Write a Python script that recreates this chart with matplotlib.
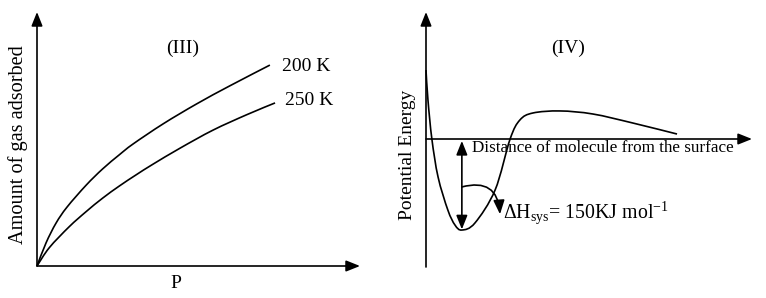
import matplotlib
matplotlib.use("Agg")
import matplotlib.pyplot as plt
from matplotlib.path import Path
from matplotlib.patches import PathPatch

plt.rcParams['font.family'] = ['Liberation Serif', 'DejaVu Serif']
plt.rcParams['mathtext.fontset'] = 'custom'
plt.rcParams['mathtext.rm'] = 'Liberation Serif'
plt.rcParams['mathtext.it'] = 'Liberation Serif:italic'

# ---- Panel (III): adsorption isotherms ----
pressure_200 = [0, 0.28, 0.59, 0.93, 1.52, 2.03, 2.55, 2.97, 3.91, 4.94, 5.98, 7.21]
amount_200 = [0, 0.91, 1.69, 2.32, 3.18, 3.82, 4.38, 4.80, 5.60, 6.38, 7.10, 7.91]
pressure_250 = [0, 0.38, 1.00, 1.52, 2.03, 2.55, 3.07, 3.58, 4.43, 5.45, 6.50, 7.37]
amount_250 = [0, 0.72, 1.55, 2.14, 2.67, 3.15, 3.59, 4.00, 4.64, 5.35, 5.96, 6.42]
curve_labels = ["200 K", "250 K"]

# ---- Panel (IV): potential energy curve ----
distance = [0, 0.06, 0.18, 0.37, 0.67, 0.89, 1.10, 1.50, 2.12, 2.58, 2.88, 3.28,
            4.11, 5.12, 6.35, 7.70]
energy = [5.41, 3.06, 0, -2.98, -5.57, -6.75, -7.14, -6.59, -4.00, 0, 1.49, 2.04,
          2.20, 1.96, 1.25, 0.39]
dh_label = r"$\mathrm{\Delta H_{sys}}$= 150KJ mol$^{\mathrm{-1}}$"

W, H = 766, 298
fig = plt.figure(figsize=(W / 100, H / 100), dpi=100)


def px_rect(x0, y_bottom, x1, y_top):
    return [x0 / W, (H - y_bottom) / H, (x1 - x0) / W, (y_bottom - y_top) / H]


def smooth_path(xs, ys):
    """Catmull-Rom curve through the points, drawn as cubic Bezier segments."""
    pts = list(zip(xs, ys))
    n = len(pts)
    verts = [pts[0]]
    codes = [Path.MOVETO]
    for i in range(n - 1):
        p0 = pts[max(i - 1, 0)]
        p1 = pts[i]
        p2 = pts[i + 1]
        p3 = pts[min(i + 2, n - 1)]
        c1 = (p1[0] + (p2[0] - p0[0]) / 6, p1[1] + (p2[1] - p0[1]) / 6)
        c2 = (p2[0] - (p3[0] - p1[0]) / 6, p2[1] - (p3[1] - p1[1]) / 6)
        verts += [c1, c2, p2]
        codes += [Path.CURVE4] * 3
    return Path(verts, codes)


lw = 1.2
arrow_kw = dict(arrowstyle='-|>,head_length=0.7,head_width=0.28', color='black',
                lw=lw, mutation_scale=12, shrinkA=0, shrinkB=0)

# Left axes
ax1 = fig.add_axes(px_rect(37, 266, 360, 12))
ax1.set_xlim(0, 10)
ax1.set_ylim(0, 10)
ax1.axis('off')
ax1.annotate('', xy=(1, 0), xytext=(0, 0), xycoords='axes fraction',
             arrowprops=arrow_kw, annotation_clip=False)
ax1.annotate('', xy=(0, 1), xytext=(0, 0), xycoords='axes fraction',
             arrowprops=arrow_kw, annotation_clip=False)
for xs, ys in [(pressure_200, amount_200), (pressure_250, amount_250)]:
    ax1.add_patch(PathPatch(smooth_path(xs, ys), facecolor='none',
                            edgecolor='black', lw=lw, clip_on=False))
ax1.text(7.59, 7.87, curve_labels[0], fontsize=14, va='center', ha='left')
ax1.text(7.68, 6.50, curve_labels[1], fontsize=14, va='center', ha='left')
ax1.text(4.52, 8.58, "(III)", fontsize=14, va='center', ha='center')
ax1.text(4.30, -0.67, "P", fontsize=14, va='center', ha='center')
fig.text(18 / W, 1 - 145 / H, "Amount of gas adsorbed", rotation=90,
         fontsize=14.6, va='center', ha='center')

# Right axes
ax2 = fig.add_axes(px_rect(426, 267, 752, 12))
ax2.set_xlim(0, 10)
ax2.set_ylim((139 - 267) / 12.75, (139 - 12) / 12.75)
ax2.axis('off')
ax2.annotate('', xy=(1, 0), xytext=(0, 0), xycoords=('axes fraction', 'data'),
             arrowprops=arrow_kw, annotation_clip=False)
ax2.annotate('', xy=(0, 1), xytext=(0, 0), xycoords='axes fraction',
             arrowprops=arrow_kw, annotation_clip=False)
ax2.add_patch(PathPatch(smooth_path(distance, energy), facecolor='none',
                        edgecolor='black', lw=lw, clip_on=False))
emin = min(energy)
xmin = distance[energy.index(emin)]
ax2.annotate('', xy=(xmin, emin + 0.05), xytext=(xmin, -0.15),
             arrowprops=dict(arrowstyle='<|-|>,head_length=0.7,head_width=0.28',
                             color='black', lw=lw, mutation_scale=12,
                             shrinkA=0, shrinkB=0))
ax2.annotate('', xy=(2.27, -5.9), xytext=(xmin, -3.76),
             arrowprops=dict(arrowstyle='-|>,head_length=0.7,head_width=0.28',
                             color='black', lw=lw, mutation_scale=12,
                             shrinkA=0, shrinkB=0,
                             connectionstyle='arc3,rad=-0.6'))
ax2.text(1.41, -0.71, "Distance of molecule from the surface", fontsize=12.3,
         va='center', ha='left')
ax2.text(2.36, -5.8, dh_label, fontsize=14.3, va='center', ha='left')
ax2.text(4.36, 7.14, "(IV)", fontsize=14, va='center', ha='center')
fig.text(408 / W, 1 - 155 / H, "Potential Energy", rotation=90,
         fontsize=14, va='center', ha='center')

fig.savefig("out.png", dpi=100)
